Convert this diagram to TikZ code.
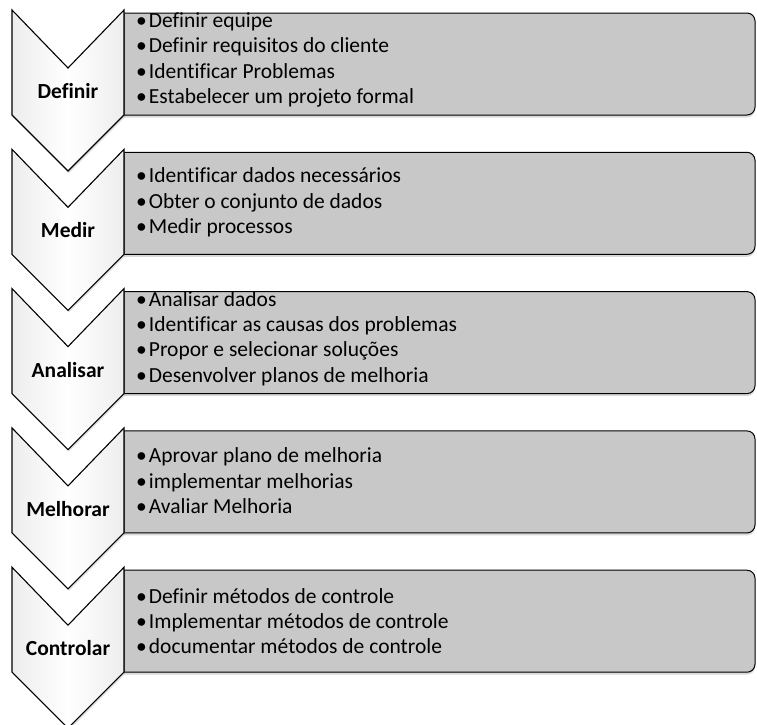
\documentclass[tikz,border=0pt]{standalone}
\usepackage{fontspec}
\setmainfont{Carlito}[Ligatures={NoCommon}]
\usetikzlibrary{shadows,positioning}
\definecolor{boxgray}{HTML}{C8C8C8}
\begin{document}
\begin{tikzpicture}[x=1pt,y=-1pt,
  chev/.style={draw=black,line width=1.1pt,line join=miter,
    left color=black!7,right color=black!7,middle color=white,
    drop shadow={shadow xshift=1pt,shadow yshift=-2pt,opacity=0.25}},
  panel/.style={draw=black,line width=1pt,fill=boxgray,
    drop shadow={shadow xshift=0pt,shadow yshift=-2.5pt,opacity=0.3}},
  phase/.style={font=\fontsize{21.5}{25}\selectfont\bfseries,anchor=center},
  items/.style={font=\fontsize{21.5}{25.3}\selectfont,anchor=west,align=left,inner sep=0pt}]
\useasboundingbox (0,0) rectangle (757,724);
\clip (0,0) rectangle (757,724);

% one row: #1 top y, #2 name, #3 label, #4 bullet list, #5 vertical offset of the list
\newcommand{\dmaicrow}[5]{%
  % text panel with rounded right corners only
  \draw[panel] (124,#1+3) -- (746,#1+3) [rounded corners=8pt] -- (755,#1+3) -- (755,#1+105)
     [sharp corners] -- (124,#1+105) -- cycle;
  % downward chevron
  \draw[chev] (12,#1) -- (68,#1+58) -- (124,#1) -- (124,#1+105) -- (68,#1+161) -- (12,#1+105) -- cycle;
  \node[phase] (#2) at (68,#1+81) {#3};
  \node[items] (#2list) at (136,#1+54+#5) {#4};
}
\newcommand{\itm}{•\hspace{2pt}}

\dmaicrow{10}{definir}{Definir}{\itm Definir equipe\\ \itm Definir requisitos do cliente\\ \itm Identificar Problemas\\ \itm Estabelecer um projeto formal}{-4}
\dmaicrow{149.3}{medir}{Medir}{\itm Identificar dados necessários\\ \itm Obter o conjunto de dados\\ \itm Medir processos}{-1}
\dmaicrow{288.6}{analisar}{Analisar}{\itm Analisar dados\\ \itm Identificar as causas dos problemas\\ \itm Propor e selecionar soluções\\ \itm Desenvolver planos de melhoria}{-4}
\dmaicrow{427.9}{melhorar}{Melhorar}{\itm Aprovar plano de melhoria\\ \itm implementar melhorias\\ \itm Avaliar Melhoria}{-1}
\dmaicrow{567.2}{controlar}{Controlar}{\itm Definir métodos de controle\\ \itm Implementar métodos de controle\\ \itm documentar métodos de controle}{0}
\end{tikzpicture}
\end{document}
